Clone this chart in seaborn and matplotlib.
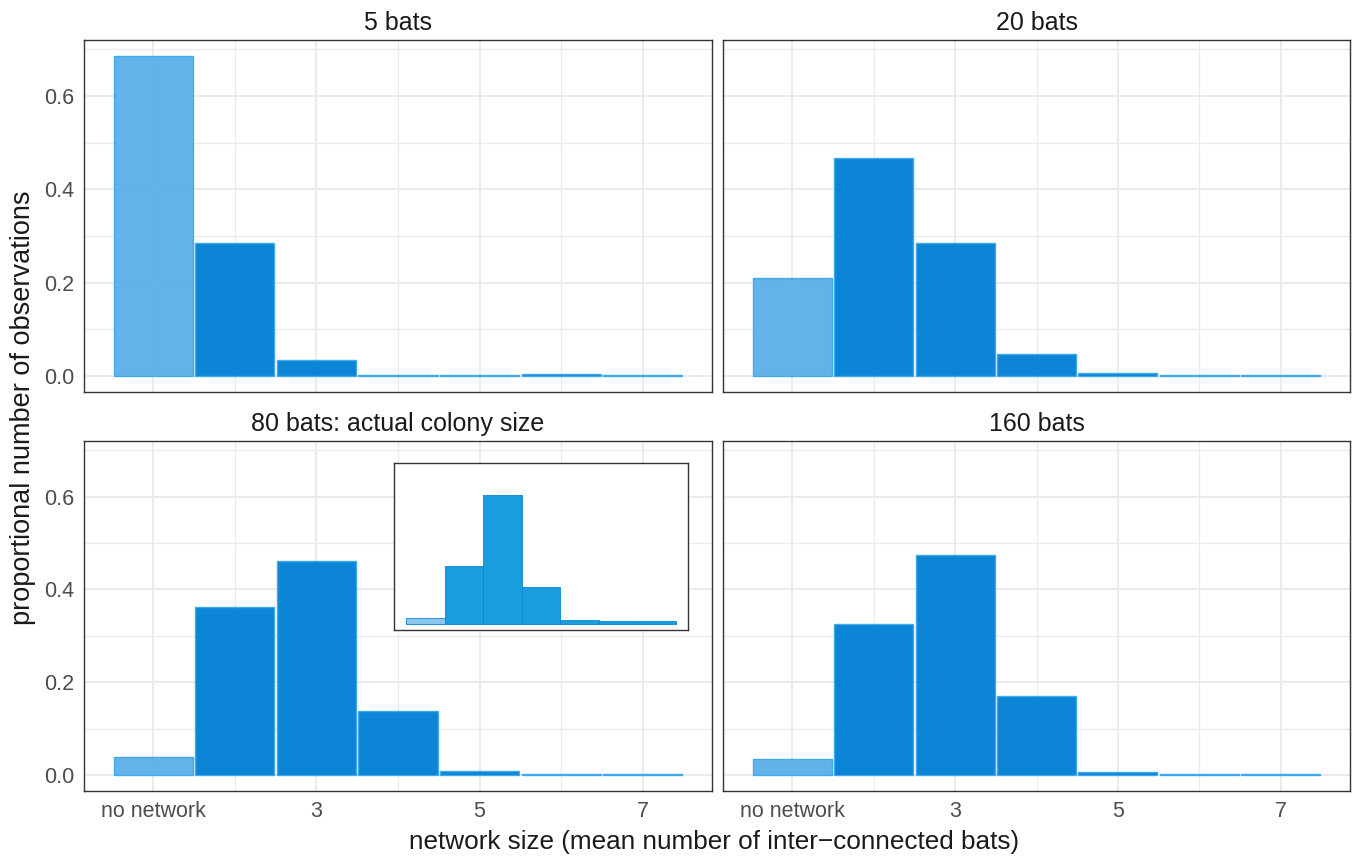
import numpy as np
import pandas as pd
import matplotlib
matplotlib.use("Agg")
import matplotlib.pyplot as plt
import seaborn as sns

# ==========================
# Data
# ==========================
network_size = [1, 2, 3, 4, 5, 6, 7]
tick_labels = ["no network", "3", "5", "7"]
panel_titles = ["5 bats", "20 bats", "80 bats: actual colony size", "160 bats"]

prop_5 = [0.686, 0.286, 0.034, 0.003, 0.002, 0.004, 0.002]
prop_20 = [0.211, 0.467, 0.284, 0.047, 0.006, 0.003, 0.002]
prop_80 = [0.039, 0.363, 0.462, 0.138, 0.009, 0.003, 0.002]
prop_160 = [0.034, 0.325, 0.475, 0.170, 0.006, 0.003, 0.002]

# inset (colony of 80, relative scale, no axes)
inset_prop = [0.028, 0.270, 0.600, 0.172, 0.019, 0.014, 0.014]

light_blue = "#5bafe7"
dark_blue = "#007ed4"

frames = []
for title, vals in zip(panel_titles, [prop_5, prop_20, prop_80, prop_160]):
    frames.append(pd.DataFrame({
        "panel": title,
        "size": network_size,
        "prop": vals,
        "kind": ["none" if s == 1 else "net" for s in network_size],
    }))
df = pd.concat(frames, ignore_index=True)

# ==========================
# Style
# ==========================
sns.set_theme(style="white")
plt.rcParams["font.family"] = ["Liberation Sans", "DejaVu Sans"]

fig = plt.figure(figsize=(13.61, 8.57), dpi=100)
W, H = 1361, 857


def px_axes(x0, y0, x1, y1):
    return fig.add_axes([x0 / W, 1 - y1 / H, (x1 - x0) / W, (y1 - y0) / H])


boxes = [(84, 40, 712, 392), (723, 40, 1350, 392),
         (84, 441, 712, 791), (723, 441, 1350, 791)]

for i, (title, box) in enumerate(zip(panel_titles, boxes)):
    ax = px_axes(*box)
    sub = df[df["panel"] == title]
    sns.barplot(data=sub, x="size", y="prop", hue="kind",
                palette={"none": light_blue, "net": dark_blue},
                saturation=1, dodge=False, width=0.97, legend=False, ax=ax,
                edgecolor="#3aa8ee", linewidth=1.0, alpha=0.95, zorder=3)
    ax.set_xlim(-0.85, 6.85)
    ax.set_ylim(-0.0343, 0.720)
    ax.set_yticks([0, 0.2, 0.4, 0.6])
    ax.set_yticks([0.1, 0.3, 0.5, 0.7], minor=True)
    ax.set_xticks([0, 2, 4, 6])
    ax.set_xticks([1, 3, 5], minor=True)
    ax.grid(True, which="major", color="#ebebeb", linewidth=1.4, zorder=0)
    ax.grid(True, which="minor", color="#ebebeb", linewidth=1.0, zorder=0)
    ax.set_axisbelow(True)
    for sp in ax.spines.values():
        sp.set_color("#333333")
        sp.set_linewidth(1.0)
    ax.set_xlabel("")
    ax.set_ylabel("")
    ax.tick_params(axis="both", which="minor", length=0)
    ax.tick_params(axis="both", which="major", length=4, width=1,
                   color="#333333", labelsize=15.5, labelcolor="#4d4d4d", pad=3)
    if i < 2:
        ax.tick_params(axis="x", which="major", length=0, labelbottom=False)
    else:
        ax.set_xticklabels(tick_labels)
    if i % 2 == 1:
        ax.tick_params(axis="y", which="major", length=0, labelleft=False)
    else:
        ax.set_yticklabels(["0.0", "0.2", "0.4", "0.6"])
    ax.set_title(title, fontsize=18, color="#1a1a1a", pad=7)

# ==========================
# Inset in the 80 bats panel
# ==========================
inset = px_axes(394, 463, 688, 630)
inset_df = pd.DataFrame({
    "size": network_size,
    "prop": inset_prop,
    "kind": ["none" if s == 1 else "net" for s in network_size],
})
sns.barplot(data=inset_df, x="size", y="prop", hue="kind",
            palette={"none": "#8cc6ee", "net": "#1a9ddf"},
            saturation=1, dodge=False, width=1.0, legend=False, ax=inset,
            edgecolor="#0a86d4", linewidth=0.6)
inset.set_xlim(-0.81, 6.81)
inset.set_ylim(-0.028, 0.749)
inset.set_xticks([])
inset.set_yticks([])
inset.set_xlabel("")
inset.set_ylabel("")
inset.set_facecolor("white")
for sp in inset.spines.values():
    sp.set_color("#333333")
    sp.set_linewidth(1.0)

# ==========================
# Shared axis labels
# ==========================
fig.text(714 / W, 1 - 842 / H, "network size (mean number of inter\u2212connected bats)",
         ha="center", va="center", fontsize=18.8, color="#1a1a1a")
fig.text(23 / W, 1 - 408 / H, "proportional number of observations",
         ha="center", va="center", rotation=90, fontsize=19.5, color="#1a1a1a")

fig.savefig("out.png", dpi=100)
plt.close(fig)
